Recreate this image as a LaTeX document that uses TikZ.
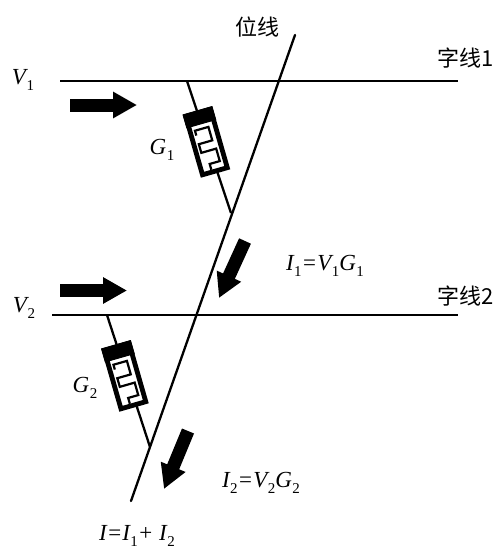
\documentclass[tikz,border=0pt]{standalone}
\usepackage{fontspec}
\setmainfont{Liberation Serif}
\newfontfamily\cjk{Noto Sans CJK SC}
\usetikzlibrary{arrows.meta}
\newcommand{\sbn}[1]{\kern0.5pt\raisebox{-6.5pt}{\upshape\fontsize{15}{15}\selectfont #1}}
\tikzset{
  wire/.style={line width=2.3pt,black},
  heavy wire/.style={line width=2.3pt,black},
  fatarrow/.style={line width=13pt,-{Triangle[length=24pt,width=25pt]},black},
  lbl/.style={inner sep=0pt,font=\fontsize{23}{23}\selectfont\itshape},
  cjklbl/.style={inner sep=0pt,font=\fontsize{22}{22}\selectfont\cjk},
  cellframe/.style={line width=4.8pt,black,fill=white},
  comb/.style={line width=2.2pt,black,line join=miter},
  cellcap/.style={fill=black,draw=black,line width=1pt}
}
\newcommand{\cellbody}{%
  \draw[cellframe] (-12.9,-30.4) rectangle (12.9,30.4);
  \draw[cellcap] (-15,-32.5) rectangle (15,-19);
  \draw[comb] (-8,-9) -- (-8,-14) -- (6,-14) -- (6,0) -- (-8,0) -- (-8,9) -- (7.5,9) -- (7.5,22) -- (-3,22) -- (-3,28);
}
\begin{document}
\begin{tikzpicture}[x=1pt,y=-1pt]
\useasboundingbox (0,0) rectangle (496,549);
% endpoints
\coordinate (w1a) at (60,81);   \coordinate (w1b) at (458,81);
\coordinate (w2a) at (52,315);  \coordinate (w2b) at (458,315);
\coordinate (blt) at (295,35);  \coordinate (blb) at (131,501);
\coordinate (c1t) at (187,81);  \coordinate (c1b) at (231,213);
\coordinate (c2t) at (107,315); \coordinate (c2b) at (150,447);
% lines
\draw[heavy wire] (w1a) -- (w1b);
\draw[heavy wire] (w2a) -- (w2b);
\draw[wire,line cap=round] (blt) -- (blb);
\draw[wire] (c1t) -- (c1b);
\draw[wire] (c2t) -- (c2b);
% cells
\begin{scope}[shift={(206.5,142)},rotate=16]\cellbody\end{scope}
\begin{scope}[shift={(125,376)},rotate=16]\cellbody\end{scope}
% fat arrows
\coordinate (a1s) at (70,105);  \coordinate (a1e) at (137,105);
\coordinate (a2s) at (60,290.5);\coordinate (a2e) at (127,290.5);
\coordinate (a3s) at (245,241); \coordinate (a3e) at (219,298);
\coordinate (a4s) at (188,431); \coordinate (a4e) at (164,489);
\draw[fatarrow] (a1s) -- (a1e);
\draw[fatarrow] (a2s) -- (a2e);
\draw[fatarrow] (a3s) -- (a3e);
\draw[fatarrow] (a4s) -- (a4e);
% labels
\node[lbl] (v1) at (23,80) {V\sbn{1}};
\node[lbl] (v2) at (24,308) {V\sbn{2}};
\node[lbl] (g1) at (162,150) {G\sbn{1}};
\node[lbl] (g2) at (85,388) {G\sbn{2}};
\node[lbl] (i1) at (325,266) {I\sbn{1}=V\sbn{1}G\sbn{1}};
\node[lbl] (i2) at (261,483) {I\sbn{2}=V\sbn{2}G\sbn{2}};
\node[lbl] (i) at (137,536) {I=I\sbn{1}+ I\sbn{2}};
\node[cjklbl] (bl) at (257,27) {位线};
\node[cjklbl] (wl1) at (466,58) {字线1};
\node[cjklbl] (wl2) at (466,296) {字线2};
\end{tikzpicture}
\end{document}
